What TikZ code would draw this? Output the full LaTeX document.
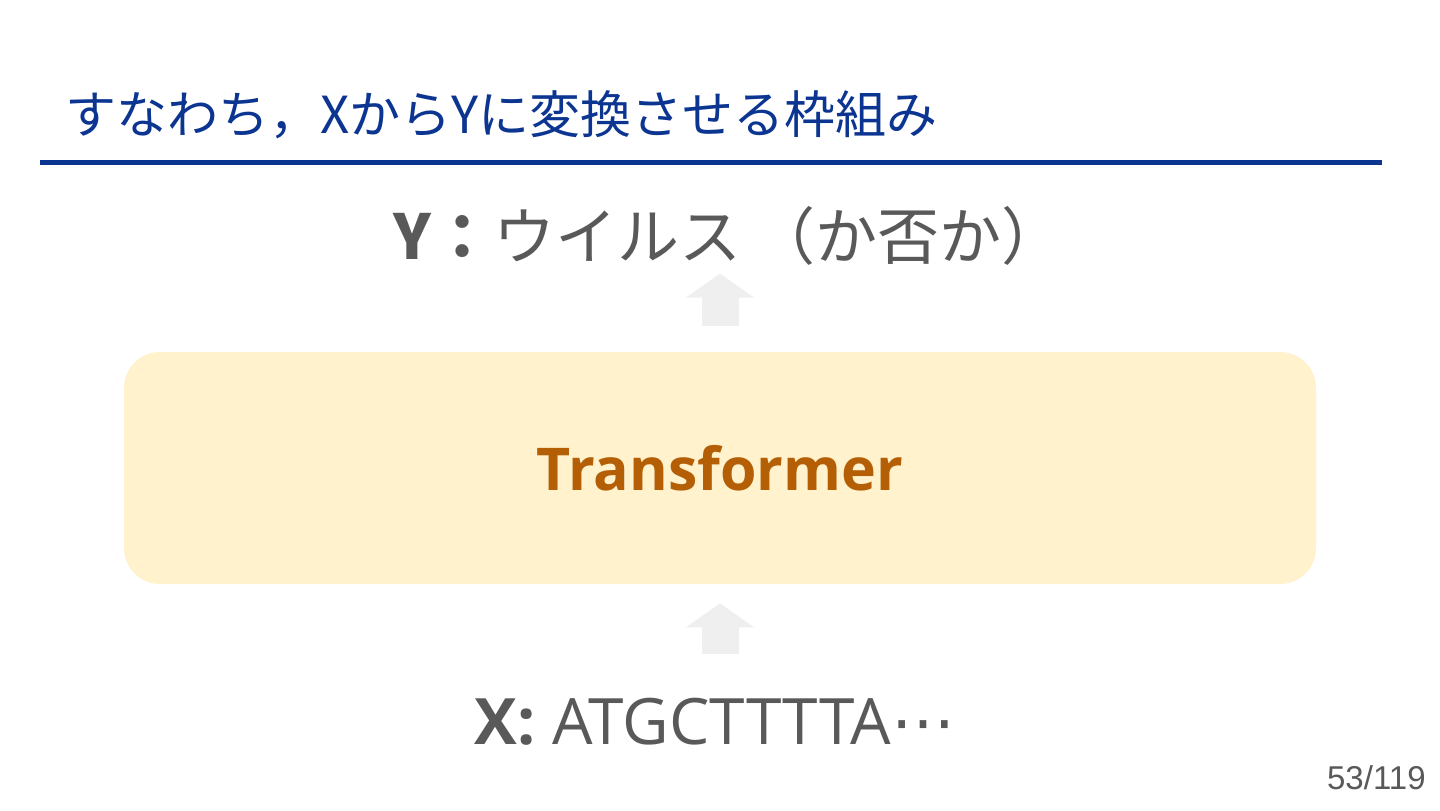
\documentclass[tikz,border=0pt]{standalone}
\usepackage{fontspec}
\setmainfont{Noto Sans CJK JP}
\newfontfamily\latinfont{Open Sans}
\newfontfamily\pagefont{Liberation Sans}
\newfontfamily\dotsfont{DejaVu Sans}
\usepackage{tikz}
\usetikzlibrary{arrows.meta,positioning}
\definecolor{titleblue}{RGB}{11,53,145}
\definecolor{textgray}{RGB}{89,89,89}
\definecolor{arrowgray}{RGB}{239,239,239}
\definecolor{boxfill}{RGB}{255,242,204}
\definecolor{boxtext}{RGB}{180,95,6}
\tikzstyle{blockarrow} = [draw=arrowgray,line width=18.5pt,-{Triangle[width=33.5pt,length=12pt]}]

\begin{document}
\begin{tikzpicture}[x=0.5pt,y=-0.5pt]
            \useasboundingbox[fill=white] (0,0) rectangle (1440,810);
            \node[anchor=west, inner sep=0pt, text=titleblue, font=\fontsize{25.5pt}{30pt}\selectfont]
                (title) at (65,115) {すなわち，XからYに変換させる枠組み};
            \draw[titleblue, line width=2.5pt] (40,162) -- (1382,162);
            \node[inner sep=0pt, text=textgray, font=\fontsize{31pt}{36pt}\selectfont]
                (ylabel) at (729,236) {\textbf{Y：}ウイルス\hspace{0.2em}（か否か）};
            \node[rounded corners=18pt, fill=boxfill, inner sep=0pt,
                minimum width=596pt, minimum height=116pt,
                text=boxtext, font=\latinfont\bfseries\fontsize{29.5pt}{36pt}\selectfont]
                (model) at (720,468) {Transformer};
            \node[inner sep=0pt, text=textgray, font=\latinfont\fontsize{32pt}{38pt}\selectfont]
                (xlabel) at (715,722) {\textbf{X:} ATGCTTTTA{\dotsfont ⋯}};
            \node[anchor=east, inner sep=0pt, text=textgray, font=\pagefont\fontsize{16.5pt}{20pt}\selectfont]
                (pagenum) at (1426,778) {53/119};
            \draw[blockarrow] ([yshift=13pt]model.north) -- ([yshift=39pt]model.north);
            \draw[blockarrow] ([yshift=-35pt]model.south) -- ([yshift=-9.5pt]model.south);
        \end{tikzpicture}
\end{document}
